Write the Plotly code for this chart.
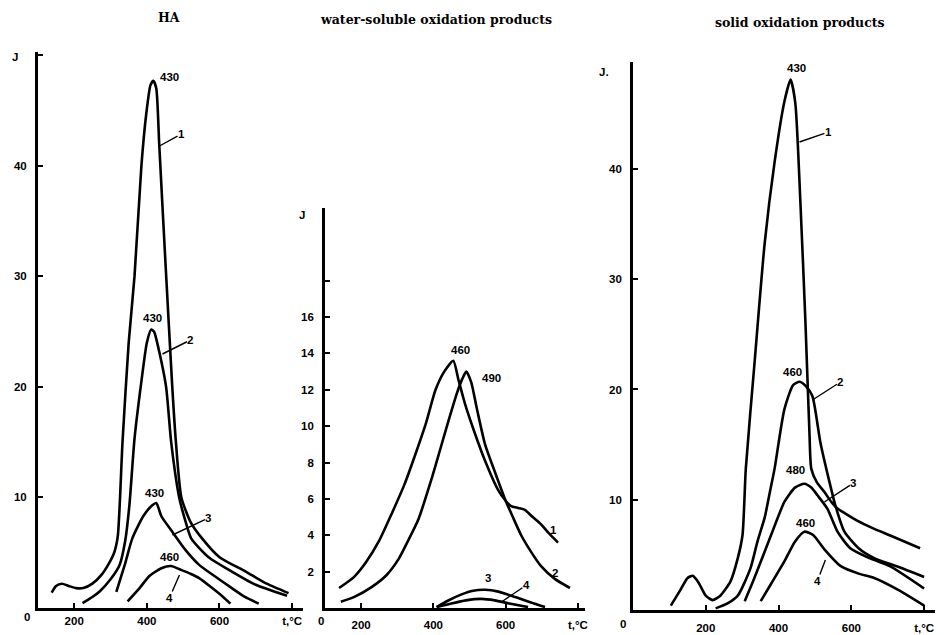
import plotly.graph_objects as go

W, H = 946, 635

# ---------------- data (temperature °C, intensity J) ----------------
# Panel 1: HA
ha_c1_x = [138, 150, 166, 185, 205, 225, 250, 275, 295, 310, 320, 333, 350, 366, 385, 398, 410, 418, 426, 434, 450, 470, 480, 495, 520, 552, 600, 672, 730, 790]
ha_c1_y = [1.4, 2.0, 2.2, 2.0, 1.8, 1.8, 2.2, 3.0, 4.0, 5.0, 6.5, 15, 24, 30, 40, 44.6, 47.3, 47.7, 47, 42, 32, 20, 15, 10, 7.8, 6.3, 4.6, 3.3, 2.2, 1.35]
ha_c2_x = [223, 250, 270, 300, 325, 340, 352, 366, 385, 400, 412, 420, 434, 453, 467, 489, 505, 522, 570, 634, 700, 786]
ha_c2_y = [0.45, 1.0, 1.5, 2.6, 3.9, 6.0, 9.3, 15.3, 20.5, 24, 25.2, 25, 23.2, 20, 15, 10, 8, 6.3, 4.6, 3.3, 2.1, 1.1]
ha_c3_x = [316, 340, 360, 390, 415, 426, 440, 470, 505, 544, 590, 634, 670, 708]
ha_c3_y = [1.45, 4.0, 6.3, 8.3, 9.3, 9.5, 8.3, 6.9, 5.3, 3.9, 2.8, 1.8, 1.0, 0.4]
ha_c4_x = [347, 380, 407, 440, 467, 490, 520, 544, 580, 610, 630]
ha_c4_y = [0.6, 1.8, 2.9, 3.6, 3.8, 3.5, 3.1, 2.7, 1.8, 1.0, 0.4]

# Panel 2: water-soluble oxidation products
ws_c1_x = [139, 180, 213, 250, 285, 320, 351, 380, 406, 430, 455, 470, 488, 515, 543, 579, 600, 615, 635, 653, 675, 698, 720, 745]
ws_c1_y = [1.1, 1.7, 2.5, 3.7, 5.2, 6.8, 8.5, 10.2, 12, 13, 13.6, 12.5, 11.2, 9.6, 8.1, 6.5, 5.9, 5.6, 5.5, 5.4, 5.0, 4.6, 4.1, 3.6]
ws_c2_x = [144, 180, 229, 270, 304, 330, 359, 395, 420, 442, 465, 480, 491, 505, 520, 543, 570, 598, 620, 643, 670, 698, 736, 778]
ws_c2_y = [0.35, 0.6, 1.15, 1.8, 2.7, 3.7, 4.9, 7.1, 8.8, 10.3, 11.8, 12.6, 13.0, 12.4, 11.0, 9.0, 7.5, 6.0, 5.0, 4.0, 3.1, 2.3, 1.6, 1.1]
ws_c3_x = [409, 440, 478, 510, 543, 580, 627, 670, 709]
ws_c3_y = [0.05, 0.4, 0.75, 0.95, 1.0, 0.9, 0.6, 0.3, 0.05]
ws_c4_x = [409, 450, 490, 533, 570, 610, 662]
ws_c4_y = [0.05, 0.25, 0.42, 0.5, 0.42, 0.25, 0.05]

# Panel 3: solid oxidation products
so_c1_x = [104, 130, 150, 164, 180, 200, 219, 240, 268, 288, 301, 310, 334, 362, 389, 416, 433, 446, 460, 474, 485, 490, 505, 526, 545, 562, 581, 616, 660, 707, 789]
so_c1_y = [0.4, 1.8, 2.9, 3.1, 2.5, 1.3, 0.9, 1.3, 2.6, 4.7, 6.8, 12.8, 22.4, 33.3, 40.6, 46.1, 48.1, 46, 37, 26, 16, 12.8, 11.6, 10.7, 9.8, 9.2, 8.8, 8.1, 7.4, 6.75, 5.6]
so_c2_x = [227, 260, 288, 323, 342, 362, 378, 389, 416, 440, 458, 475, 493, 515, 540, 556, 581, 620, 663, 730, 800]
so_c2_y = [0.15, 0.6, 1.3, 3.8, 6.2, 8.4, 11, 12.8, 18.2, 20.4, 20.7, 20.3, 19.4, 15.2, 11.6, 9.5, 7.1, 5.6, 4.7, 3.9, 3.0]
so_c3_x = [307, 330, 362, 390, 416, 445, 471, 490, 507, 534, 562, 597, 650, 707, 800]
so_c3_y = [0.8, 2.6, 5.3, 7.7, 9.8, 11.1, 11.45, 11.1, 10.4, 9.2, 7.1, 5.6, 4.7, 3.95, 1.95]
so_c4_x = [351, 380, 416, 445, 471, 495, 526, 570, 620, 663, 730, 800]
so_c4_y = [0.8, 2.4, 4.4, 6.2, 7.1, 6.8, 5.5, 4.0, 3.3, 2.9, 1.8, 0.4]

titles = ["HA", "water-soluble oxidation products", "solid oxidation products"]
x_tickvals = [200, 400, 600, 800]
x_ticktext = ["200", "400", "600", "t,°C"]
ha_yticks = [10, 20, 30, 40, 50]
ws_yticks = [2, 4, 6, 8, 10, 12, 14, 16, 18]
so_yticks = [10, 20, 30, 40, 50]

# ---------------- figure ----------------
def P(x, y):
    return x / W, 1 - y / H

fig = go.Figure()
line = dict(color="black", width=2.6, shape="spline", smoothing=0.6)
panels = [
    ("x", "y", [(ha_c1_x, ha_c1_y), (ha_c2_x, ha_c2_y), (ha_c3_x, ha_c3_y), (ha_c4_x, ha_c4_y)]),
    ("x2", "y2", [(ws_c1_x, ws_c1_y), (ws_c2_x, ws_c2_y), (ws_c3_x, ws_c3_y), (ws_c4_x, ws_c4_y)]),
    ("x3", "y3", [(so_c1_x, so_c1_y), (so_c2_x, so_c2_y), (so_c3_x, so_c3_y), (so_c4_x, so_c4_y)]),
]
for xa, ya, curves in panels:
    for cx, cy in curves:
        fig.add_trace(go.Scatter(x=cx, y=cy, mode="lines", line=line, xaxis=xa, yaxis=ya,
                                 showlegend=False, hoverinfo="skip"))

tickfont = dict(family="Liberation Sans, Arial", size=11.5, color="black", weight="bold")
axis_common = dict(showgrid=False, zeroline=False, showline=True, linecolor="black", linewidth=2.6,
                   ticks="inside", ticklen=5, tickwidth=1.5, tickcolor="black", tickfont=tickfont)

fig.update_layout(
    width=W, height=H,
    margin=dict(l=0, r=0, t=0, b=0),
    paper_bgcolor="white", plot_bgcolor="rgba(0,0,0,0)",
    xaxis=dict(domain=[38 / W, 304 / W], range=[100, 830], anchor="y",
               tickvals=x_tickvals, ticktext=x_ticktext, ticklabelstandoff=0, **axis_common),
    yaxis=dict(domain=[27 / H, 583 / H], range=[0, 50.3], anchor="x",
               tickvals=ha_yticks, ticktext=["10", "20", "30", "40", ""], ticklabelstandoff=6, **axis_common),
    xaxis2=dict(domain=[326 / W, 587 / W], range=[100, 820], anchor="y2",
                tickvals=x_tickvals, ticktext=x_ticktext, ticklabelstandoff=4, **axis_common),
    yaxis2=dict(domain=[27 / H, 427 / H], range=[0, 22], anchor="x2",
                tickvals=ws_yticks, ticktext=["2", "4", "6", "8", "10", "12", "14", "16", ""],
                ticklabelstandoff=6, **axis_common),
    xaxis3=dict(domain=[635 / W, 938 / W], range=[0, 830], anchor="y3",
                tickvals=x_tickvals, ticktext=x_ticktext, ticklabelstandoff=5, **axis_common),
    yaxis3=dict(domain=[25 / H, 573 / H], range=[0, 49.7], anchor="x3",
                tickvals=so_yticks, ticktext=["10", "20", "30", "40", ""], ticklabelstandoff=6, **axis_common),
)

ann = []
tfont = dict(family="DejaVu Serif, Liberation Serif", size=12.5, color="black", weight="bold")
for t, (x, y) in zip(titles, [(170, 18), (437, 20), (803, 22)]):
    px, py = P(x, y)
    ann.append(dict(text=t, x=px, y=py, xref="paper", yref="paper", xanchor="center", yanchor="middle",
                    showarrow=False, font=tfont))

lfont = dict(family="Liberation Sans Narrow, Liberation Sans, Arial", size=11.5, color="black", weight="bold")
labels = [
    ("J", 15, 57), ("0", 27, 617), ("J", 303, 215), ("0", 322, 621), ("J.", 606, 72), ("0", 625, 624),
    ("430", 170, 77), ("430", 153, 318), ("430", 155, 493), ("460", 170, 557),
    ("460", 462, 350), ("490", 493, 378), ("1", 555, 530), ("2", 557, 573), ("3", 490, 578),
    ("430", 799, 68), ("460", 795, 372), ("480", 798, 470), ("460", 808, 523),
]
for t, x, y in labels:
    px, py = P(x, y)
    ann.append(dict(text=t, x=px, y=py, xref="paper", yref="paper", xanchor="center", yanchor="middle",
                    showarrow=False, font=lfont))

# curve numbers with leader lines: (text, label x, label y, tip x, tip y) in pixels
leaders = [
    ("1", 182, 134, 160, 146), ("2", 191, 340, 163, 354), ("3", 209, 518, 173, 535), ("4", 170, 598, 180, 575),
    ("4", 528, 585, 503, 602),
    ("1", 831, 132, 802, 142), ("2", 843, 382, 815, 400), ("3", 856, 483, 827, 502), ("4", 820, 581, 828, 560),
]
for t, lx, ly, tx, ty in leaders:
    px, py = P(tx, ty)
    ann.append(dict(text=t, x=px, y=py, xref="paper", yref="paper", showarrow=True, arrowhead=0,
                    arrowwidth=1.4, arrowcolor="black", ax=lx - tx, ay=ly - ty, font=lfont, borderpad=0))

fig.update_layout(annotations=ann)
fig.write_html("out.html")
